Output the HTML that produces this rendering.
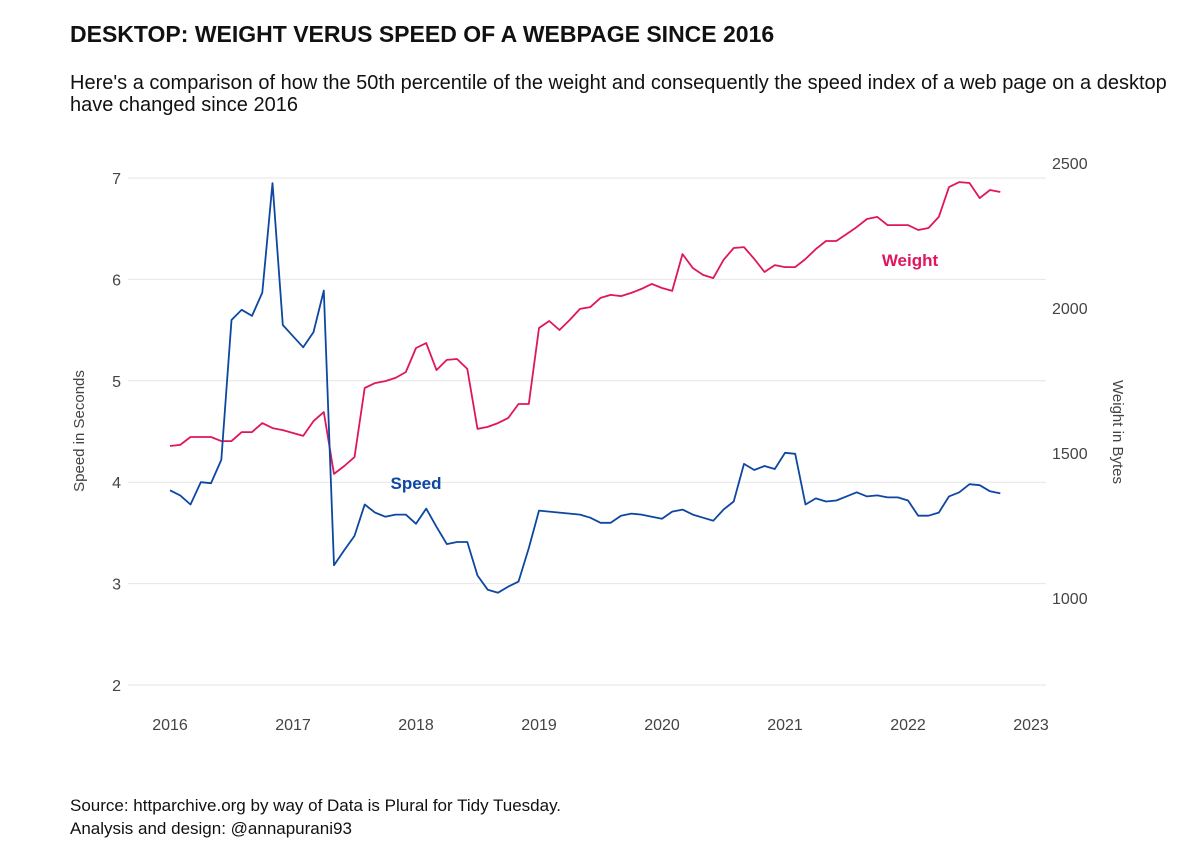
<!DOCTYPE html>
<html><head><meta charset="utf-8"><style>
html,body{margin:0;padding:0;background:#fff;}
body{width:1200px;height:857px;overflow:hidden;font-family:"Liberation Sans",Arial,sans-serif;}
</style></head><body>
<svg id="chart" width="1200" height="857" xmlns="http://www.w3.org/2000/svg" font-family="Liberation Sans, Arial, sans-serif">
<text x="70" y="42" font-size="23" font-weight="bold" fill="#111">DESKTOP: WEIGHT VERUS SPEED OF A WEBPAGE SINCE 2016</text>
<text x="70" y="89" font-size="20" fill="#111">Here's a comparison of how the 50th percentile of the weight and consequently the speed index of a web page on a desktop</text>
<text x="70" y="111" font-size="20" fill="#111">have changed since 2016</text>
<g id="grid"></g>
<g id="axes"></g>
<g id="lines"></g>
<text transform="translate(84,431) rotate(-90)" text-anchor="middle" font-size="15" fill="#444">Speed in Seconds</text>
<text transform="translate(1113,432) rotate(90)" text-anchor="middle" font-size="15" fill="#444">Weight in Bytes</text>
<text x="416" y="489" text-anchor="middle" font-size="17" font-weight="bold" fill="#0d47a1">Speed</text>
<text x="910" y="266" text-anchor="middle" font-size="17" font-weight="bold" fill="#e0155e">Weight</text>
<text x="70" y="811" font-size="17" fill="#111">Source: httparchive.org by way of Data is Plural for Tidy Tuesday.</text>
<text x="70" y="834" font-size="17" fill="#111">Analysis and design: @annapurani93</text>
</svg>
<script>
const speedValues=[3.92,3.87,3.78,4.00,3.99,4.22,5.60,5.70,5.64,5.87,6.95,5.55,5.44,5.33,5.48,5.89,3.18,3.33,3.47,3.78,3.70,3.66,3.68,3.68,3.59,3.74,3.56,3.39,3.41,3.41,3.08,2.94,2.91,2.97,3.02,3.35,3.72,3.71,3.70,3.69,3.68,3.65,3.60,3.60,3.67,3.69,3.68,3.66,3.64,3.71,3.73,3.68,3.65,3.62,3.73,3.81,4.18,4.12,4.16,4.13,4.29,4.28,3.78,3.84,3.81,3.82,3.86,3.90,3.86,3.87,3.85,3.85,3.82,3.67,3.67,3.70,3.86,3.90,3.98,3.97,3.91,3.89];
const weightValues=[1524,1528,1555,1555,1555,1541,1541,1572,1572,1603,1586,1579,1569,1559,1610,1641,1428,1455,1486,1724,1741,1748,1759,1779,1862,1879,1786,1821,1824,1790,1583,1590,1603,1621,1669,1669,1931,1955,1924,1959,1997,2003,2035,2045,2041,2052,2066,2083,2069,2059,2186,2138,2114,2103,2166,2207,2210,2169,2124,2148,2141,2141,2169,2203,2231,2231,2255,2279,2307,2314,2286,2286,2286,2269,2276,2314,2417,2434,2431,2379,2407,2400];
const startYear=2016;
const xTicks=[2016,2017,2018,2019,2020,2021,2022,2023];
const speedTicks=[2,3,4,5,6,7];
const weightTicks=[1000,1500,2000,2500];
const NS="http://www.w3.org/2000/svg";
function xs(y){return 170+(y-2016)*123;}
function ysL(v){return 178+(7-v)*101.4;}
function ysR(v){return 163+(2500-v)*0.29;}
function mk(tag,attrs,parent){const e=document.createElementNS(NS,tag);for(const k in attrs)e.setAttribute(k,attrs[k]);parent.appendChild(e);return e;}
const grid=document.getElementById('grid'),axes=document.getElementById('axes'),lines=document.getElementById('lines');
speedTicks.forEach(t=>{
  const l=mk('line',{x1:128,x2:1046,y1:ysL(t),y2:ysL(t),stroke:'#e6e6e6','stroke-width':1},grid);
  
  
  const tx=mk('text',{x:121,y:ysL(t)+6,'text-anchor':'end','font-size':16,fill:'#444'},axes);
  tx.textContent=t;
  
  
});
weightTicks.forEach(t=>{
  const tx=mk('text',{x:1052,y:ysR(t)+6,'font-size':16,fill:'#444'},axes);
  tx.textContent=t;
  
  
});
xTicks.forEach(t=>{
  const tx=mk('text',{x:xs(t),y:730,'text-anchor':'middle','font-size':16,fill:'#444'},axes);
  tx.textContent=t;
  
  
});
function path(vals,ys){return vals.map((v,i)=>(i?'L':'M')+xs(startYear+i/12).toFixed(1)+','+ys(v).toFixed(1)).join(' ');}
const wl=mk('path',{d:path(weightValues,ysR),fill:'none',stroke:'#e0155e','stroke-width':1.8,'stroke-linejoin':'round'},lines);


const sl=mk('path',{d:path(speedValues,ysL),fill:'none',stroke:'#0d47a1','stroke-width':1.8,'stroke-linejoin':'round'},lines);


</script>
</body></html>
